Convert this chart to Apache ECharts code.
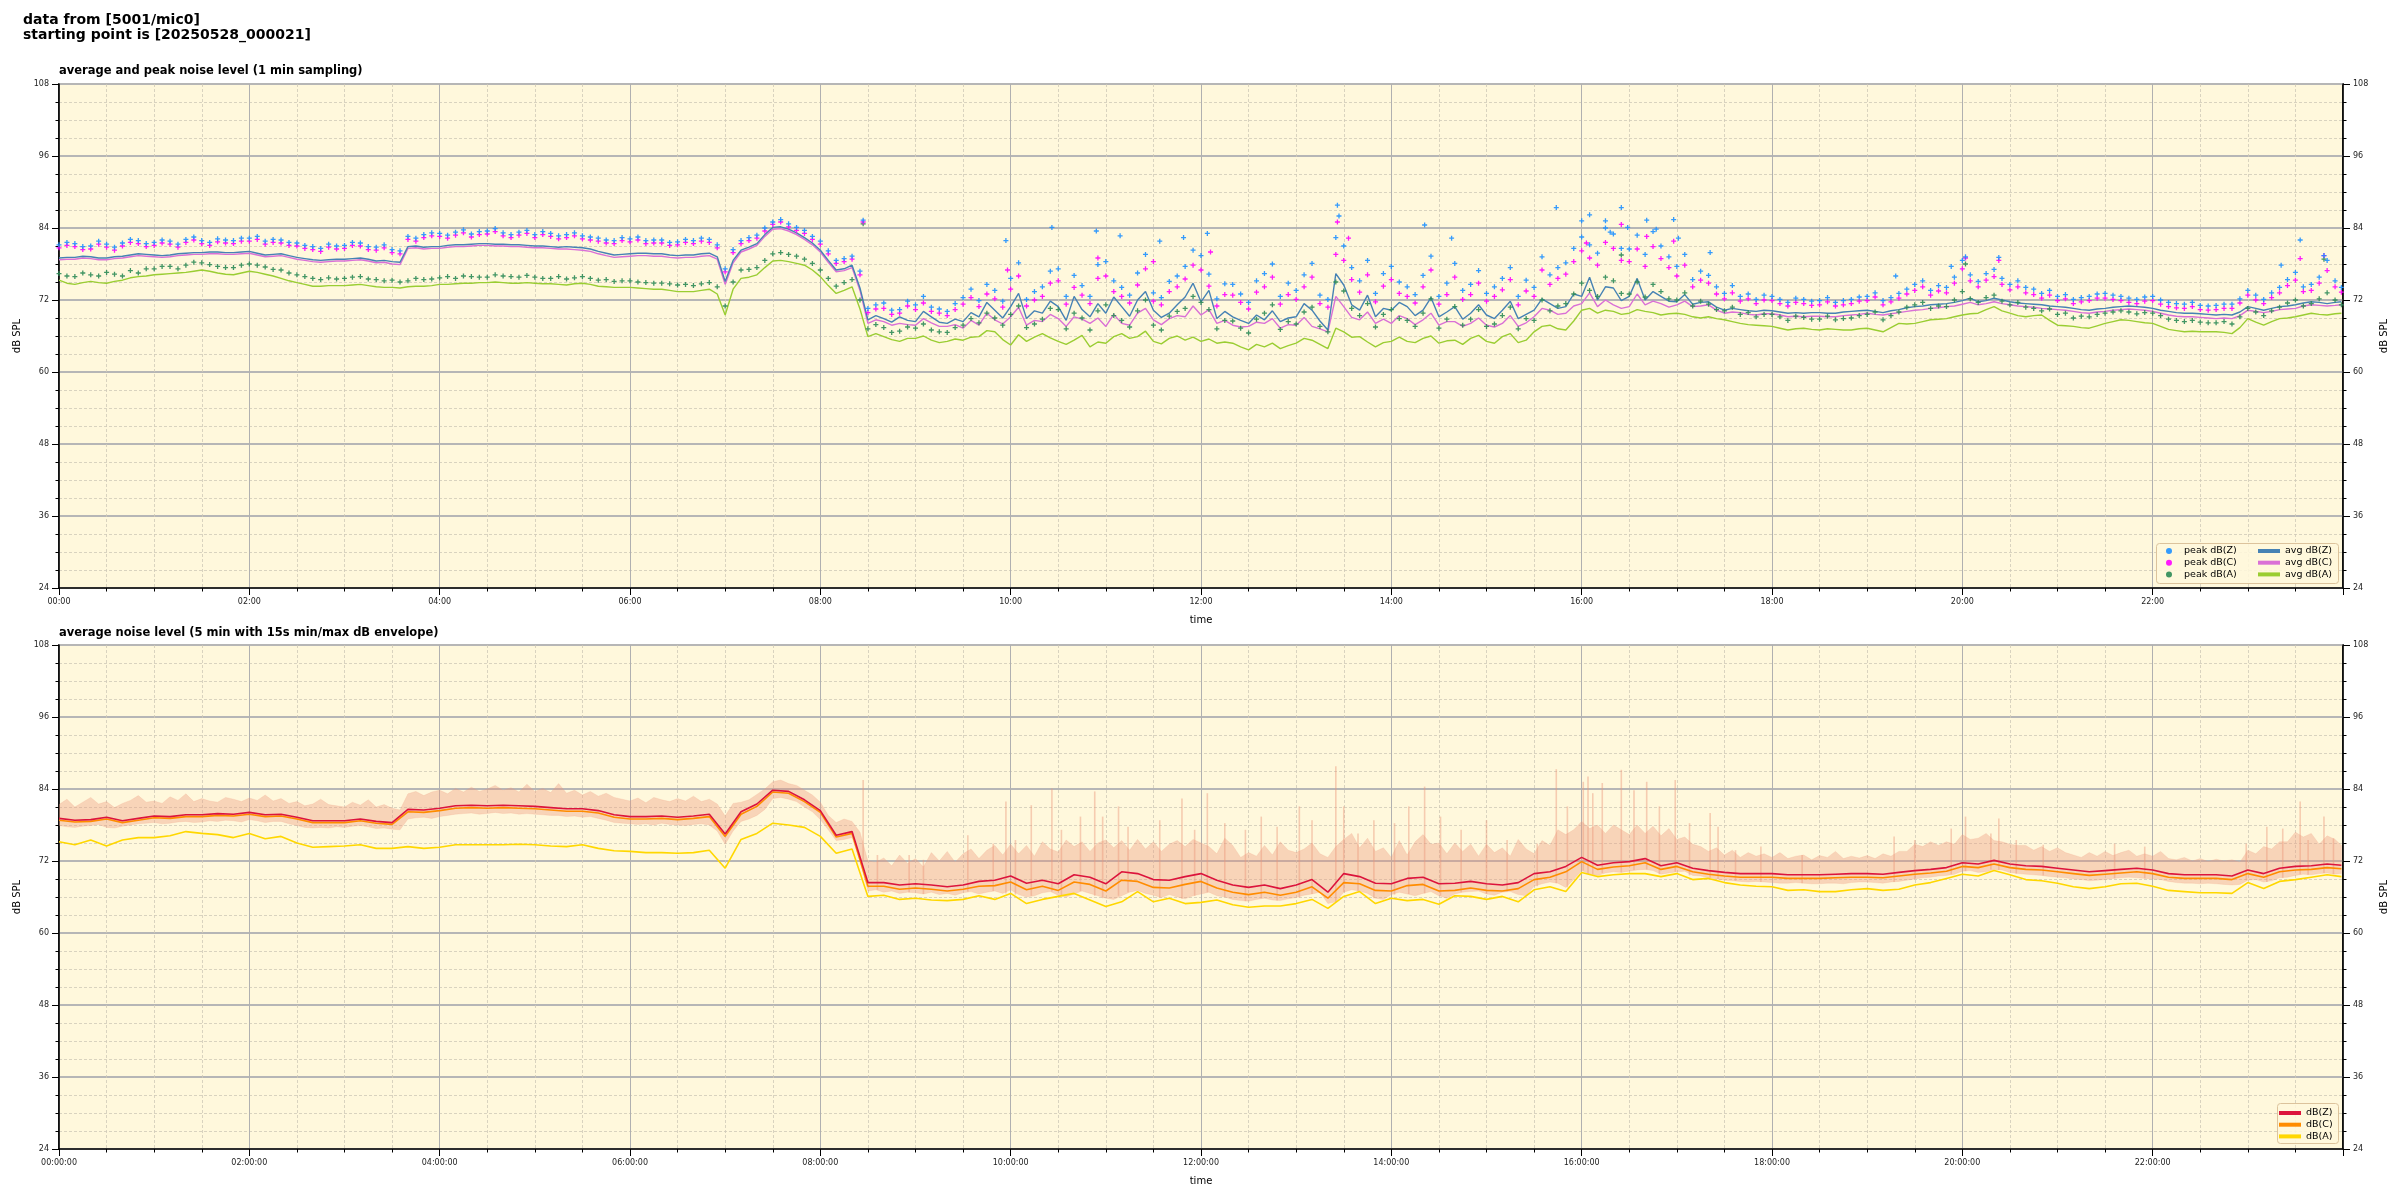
<!DOCTYPE html>
<html><head><meta charset="utf-8">
<script src="https://cdn.jsdelivr.net/npm/echarts/dist/echarts.min.js"></script>
<style>html,body{margin:0;padding:0;background:#fff}#c{width:2400px;height:1200px}</style>
</head><body><div id="c"></div><script>
// ---- panel 1: 5-minute samples from 00:00 (last sample 23:59), 12 per row = 1 hour ----
const avgZ = [
79.0,79.1,79.1,79.3,79.2,79.0,79.0,79.2,79.3,79.5,79.7,79.6, 79.5,79.4,79.5,79.7,79.8,79.9,79.9,80.0,80.0,79.9,79.9,80.0,
80.1,79.8,79.5,79.6,79.7,79.4,79.1,78.9,78.7,78.6,78.7,78.8, 78.8,78.9,79.0,78.8,78.5,78.6,78.4,78.3,80.9,81.0,80.8,80.9,
80.9,81.1,81.2,81.2,81.3,81.4,81.4,81.3,81.3,81.2,81.2,81.1, 81.0,81.0,80.9,80.8,80.9,80.8,80.7,80.5,80.1,79.8,79.5,79.6,
79.7,79.8,79.8,79.7,79.7,79.5,79.4,79.5,79.5,79.7,79.8,79.2, 75.1,78.6,80.3,80.8,81.4,82.9,84.1,84.2,83.8,83.2,82.4,81.5,
80.3,78.6,77.0,77.2,77.8,74.0,68.7,69.4,68.9,68.3,69.2,68.6, 68.4,70.1,69.2,68.3,68.1,68.8,68.4,69.9,69.2,71.6,70.3,69.0,
70.9,73.1,68.9,70.2,69.8,71.8,70.9,68.6,72.6,70.4,69.2,71.4, 69.8,72.5,70.9,69.3,72.0,73.4,70.3,69.1,69.8,71.2,72.5,74.8,
71.7,73.6,68.9,70.1,69.2,68.6,68.1,69.5,68.7,70.2,68.4,69.0, 69.2,71.4,70.3,68.5,67.0,76.4,74.5,71.2,70.3,72.8,69.2,70.6,
70.3,71.6,70.9,69.4,70.3,72.4,69.2,70.0,70.9,68.8,69.8,71.2, 69.5,68.9,70.3,71.8,68.9,69.6,70.3,72.2,71.4,70.6,70.9,73.0,
72.6,75.8,72.0,74.2,74.0,71.9,72.6,75.6,72.0,73.4,72.6,71.8, 71.7,72.9,71.3,71.6,71.7,70.8,70.3,70.6,70.4,70.2,70.1,70.3,
70.2,70.0,69.8,69.9,69.8,69.9,69.9,69.8,69.8,70.0,70.1,70.2, 70.3,70.1,69.9,70.2,70.4,70.7,70.9,71.0,71.2,71.3,71.4,71.6,
71.9,72.3,71.7,71.9,72.3,72.0,71.7,71.5,71.4,71.3,71.2,71.0, 70.9,70.8,70.6,70.4,70.3,70.5,70.6,70.8,70.9,71.0,70.9,70.8,
70.6,70.3,70.1,69.9,69.8,69.8,69.7,69.6,69.5,69.6,69.5,70.0, 70.9,70.6,70.3,70.6,70.9,71.0,71.2,71.5,71.7,71.6,71.4,71.6, 71.7];
const avgC = [
78.7,78.8,78.8,79.0,78.9,78.7,78.7,78.9,79.0,79.2,79.4,79.3, 79.2,79.1,79.2,79.4,79.5,79.6,79.6,79.7,79.7,79.6,79.6,79.7,
79.8,79.5,79.2,79.3,79.4,79.1,78.8,78.6,78.4,78.3,78.4,78.5, 78.5,78.6,78.7,78.5,78.2,78.3,78.0,77.9,80.6,80.7,80.5,80.6,
80.6,80.8,80.9,80.9,81.0,81.1,81.1,81.0,81.0,80.9,80.9,80.8, 80.7,80.7,80.6,80.5,80.5,80.4,80.3,80.1,79.7,79.4,79.1,79.2,
79.3,79.4,79.4,79.3,79.3,79.1,79.0,79.1,79.1,79.3,79.4,78.8, 74.6,78.2,80.0,80.5,81.1,82.6,83.8,83.9,83.5,82.9,82.1,81.2,
80.0,78.3,76.7,76.9,77.4,73.6,68.1,68.7,68.4,67.8,68.1,67.9, 67.8,68.9,68.2,67.6,67.6,67.9,67.3,68.6,67.8,69.8,68.7,68.0,
69.2,70.8,67.8,68.6,68.4,69.6,68.9,67.6,69.2,68.8,68.1,69.0, 67.6,69.6,68.1,67.8,69.8,70.6,68.7,67.9,68.9,69.4,69.2,71.0,
69.5,70.4,68.1,68.6,67.8,67.5,67.6,68.3,68.1,68.9,67.3,67.9, 67.8,69.1,67.6,67.2,66.7,72.6,70.9,69.1,68.7,70.0,68.1,68.8,
68.1,69.4,68.9,67.9,68.7,69.8,67.8,68.4,68.4,67.6,68.1,69.0, 67.8,67.5,68.1,69.4,67.6,68.2,69.2,70.6,70.3,69.6,69.8,71.0,
71.4,73.2,70.9,72.0,71.2,70.6,70.9,73.0,71.2,71.8,71.4,70.8, 71.2,71.8,70.9,71.0,71.2,70.3,69.8,70.0,69.9,69.6,69.5,69.7,
69.7,69.5,69.2,69.3,69.2,69.3,69.3,69.2,69.2,69.4,69.5,69.6, 69.8,69.6,69.5,69.7,69.9,70.1,70.3,70.4,70.6,70.7,70.9,71.0,
71.3,71.6,71.2,71.4,71.7,71.4,71.2,71.0,70.9,70.8,70.6,70.5, 70.4,70.3,70.1,69.9,69.8,70.0,70.1,70.3,70.4,70.5,70.4,70.3,
70.1,69.8,69.5,69.3,69.2,69.2,69.1,69.0,68.9,69.0,68.9,69.4, 70.3,70.1,69.9,70.1,70.4,70.5,70.6,71.0,71.2,71.1,71.0,71.1, 71.2];
const avgA = [
75.3,74.8,74.6,74.9,75.1,74.9,74.8,75.1,75.3,75.7,75.9,76.0, 76.2,76.3,76.4,76.5,76.6,76.8,77.0,76.8,76.5,76.3,76.2,76.5,
76.8,76.6,76.3,76.0,75.6,75.2,74.9,74.6,74.3,74.3,74.4,74.4, 74.4,74.5,74.6,74.4,74.2,74.1,74.1,74.0,74.2,74.3,74.3,74.4,
74.6,74.6,74.7,74.8,74.8,74.9,74.9,75.0,74.9,74.8,74.8,74.9, 74.8,74.7,74.7,74.6,74.5,74.7,74.8,74.6,74.3,74.2,74.1,74.1,
74.1,74.0,73.9,73.8,73.8,73.6,73.4,73.4,73.4,73.6,73.8,73.0, 69.5,73.8,75.6,75.8,76.2,77.4,78.5,78.6,78.4,78.1,77.8,77.0,
75.9,74.4,73.1,73.6,74.2,70.5,65.9,66.4,65.9,65.4,65.1,65.6, 65.6,66.0,65.3,64.9,65.1,65.5,65.3,65.8,65.9,66.9,66.7,65.4,
64.5,66.2,65.1,65.8,66.4,65.7,65.1,64.6,65.3,66.1,64.2,65.0, 64.8,65.9,66.4,65.6,65.9,66.8,65.1,64.7,65.6,66.0,65.3,65.8,
65.1,65.5,64.8,65.0,64.8,64.2,63.7,64.6,64.2,64.8,63.9,64.4, 64.8,65.6,65.3,64.6,63.9,67.3,66.7,65.8,65.9,65.0,64.2,64.9,
65.1,65.8,65.1,64.9,65.6,66.0,64.8,65.2,65.3,64.6,65.6,66.1, 65.1,64.8,65.9,66.4,64.9,65.3,66.7,67.6,67.8,67.2,67.0,68.5,
70.3,70.6,69.8,70.3,70.1,69.6,69.8,70.4,70.1,69.9,69.5,69.7, 69.8,69.6,69.2,69.0,69.2,68.9,68.7,68.4,68.1,67.9,67.8,67.7,
67.6,67.3,67.0,67.2,67.3,67.1,67.0,67.2,67.1,67.0,67.0,67.2, 67.3,67.0,66.7,67.4,68.1,68.0,68.1,68.4,68.7,68.8,68.9,69.2,
69.5,69.7,69.8,70.4,70.9,70.2,69.8,69.4,69.2,69.4,69.5,68.6, 67.8,67.7,67.6,67.4,67.3,67.7,68.1,68.4,68.7,68.6,68.4,68.2,
68.1,67.6,67.1,66.9,66.7,66.8,66.7,66.7,66.7,66.6,66.4,67.4, 68.9,68.3,67.8,68.4,68.9,69.0,69.2,69.5,69.8,69.6,69.5,69.7, 69.8];
const peakZ = [
81.2,81.6,81.4,80.9,81.0,81.8,81.3,80.8,81.5,82.1,81.9,81.4, 81.6,82.0,81.8,81.3,82.1,82.5,81.9,81.6,82.2,82.0,81.9,82.3,
82.3,82.6,81.8,82.1,82.0,81.6,81.5,81.1,80.9,80.6,81.3,81.0, 81.1,81.6,81.5,80.9,80.8,81.2,80.4,80.2,82.6,82.3,82.9,83.2,
83.1,82.8,83.3,83.7,83.0,83.4,83.5,83.9,83.2,82.9,83.3,83.6, 82.9,83.4,83.1,82.7,82.9,83.2,82.7,82.5,82.3,82.0,81.9,82.4,
82.2,82.5,81.9,82.0,82.0,81.6,81.7,82.1,81.9,82.3,82.1,81.2, 77.2,80.4,81.9,82.4,82.8,84.0,85.0,85.4,84.7,84.1,83.6,82.6,
81.8,80.2,78.6,78.9,79.3,76.8,70.6,71.2,71.5,70.3,70.4,71.8, 71.2,72.6,70.8,70.5,70.1,71.4,72.4,73.8,71.9,74.6,73.6,71.8,
75.6,78.2,72.1,73.4,74.2,76.8,77.2,72.6,76.1,74.4,72.6,77.9, 78.4,75.2,74.1,72.8,76.5,79.6,73.2,72.4,75.1,76.0,77.6,80.3,
79.4,76.3,72.2,74.7,74.6,73.0,71.6,75.2,76.4,78.0,72.6,74.8, 73.6,76.2,78.1,72.8,72.1,82.4,81.0,77.4,75.2,78.6,73.1,76.4,
77.6,75.0,74.2,72.9,76.1,79.3,72.6,74.8,78.1,73.6,74.6,76.9, 73.1,74.2,75.6,77.4,72.6,75.3,74.1,79.2,76.2,77.4,78.2,80.6,
82.5,81.2,79.8,84.0,83.0,80.6,80.5,82.8,79.6,83.4,81.0,79.2, 77.6,79.6,75.4,76.8,76.1,74.2,73.1,74.4,72.6,73.0,72.1,72.8,
72.6,72.1,71.6,72.3,72.1,71.8,71.9,72.4,71.6,71.9,72.1,72.5, 72.6,73.2,71.9,72.4,73.1,73.8,74.6,75.2,73.6,74.4,74.1,75.8,
78.6,76.2,75.1,76.4,77.1,75.6,74.6,75.2,74.1,73.8,73.1,73.6, 72.6,72.9,72.1,72.4,72.6,73.0,73.1,72.8,72.6,72.3,72.1,72.5,
72.6,72.0,71.6,71.4,71.3,71.6,71.1,71.0,71.1,71.3,71.3,72.2, 73.6,72.8,72.1,73.2,74.1,75.4,76.6,74.2,74.6,75.8,78.6,75.2, 74.1];
const peakC = [
80.7,81.1,80.9,80.4,80.5,81.3,80.8,80.3,81.0,81.6,81.4,80.9, 81.1,81.5,81.3,80.8,81.6,82.0,81.4,81.1,81.7,81.5,81.4,81.8,
81.8,82.1,81.3,81.6,81.5,81.1,81.0,80.6,80.4,80.1,80.8,80.5, 80.6,81.1,81.0,80.4,80.3,80.7,79.9,79.7,82.1,81.8,82.4,82.7,
82.6,82.3,82.8,83.2,82.5,82.9,83.0,83.4,82.7,82.4,82.8,83.1, 82.4,82.9,82.6,82.2,82.4,82.7,82.2,82.0,81.8,81.5,81.4,81.9,
81.7,82.0,81.4,81.5,81.5,81.1,81.2,81.6,81.4,81.8,81.6,80.7, 76.7,79.9,81.4,81.9,82.3,83.5,84.6,85.0,84.2,83.6,83.1,82.1,
81.3,79.7,78.1,78.4,78.8,76.2,69.9,70.5,70.6,69.6,69.8,71.0, 70.4,71.5,70.1,69.8,69.4,70.4,71.3,72.4,70.9,73.0,72.2,70.8,
73.8,76.0,71.0,72.0,72.6,74.8,75.2,71.3,74.1,72.8,71.4,75.6, 76.0,73.4,72.6,71.5,74.5,77.2,71.8,71.2,73.4,74.2,75.5,77.8,
77.0,74.3,71.0,72.9,72.8,71.6,70.5,73.3,74.2,75.8,71.3,72.9, 72.1,74.2,75.8,71.4,70.8,79.6,78.6,75.4,73.3,76.2,71.7,74.3,
75.4,73.1,72.6,71.5,74.2,77.0,71.3,72.9,75.8,72.1,72.9,74.8, 71.8,72.6,73.7,75.4,71.2,73.5,72.6,77.0,74.6,75.6,76.3,78.4,
80.2,79.0,77.8,81.6,80.6,78.6,78.4,80.5,77.6,80.9,78.9,77.4, 76.0,77.8,74.2,75.3,74.8,73.0,72.2,73.2,71.8,72.2,71.4,72.0,
71.9,71.4,71.0,71.6,71.4,71.1,71.2,71.7,71.0,71.2,71.4,71.8, 71.9,72.5,71.2,71.7,72.3,73.0,73.6,74.2,72.8,73.5,73.2,74.8,
77.2,75.2,74.2,75.3,75.9,74.6,73.7,74.2,73.2,72.9,72.3,72.8, 71.9,72.2,71.4,71.7,71.9,72.3,72.3,72.1,71.9,71.6,71.4,71.8,
71.9,71.3,70.9,70.7,70.6,70.9,70.4,70.3,70.4,70.6,70.6,71.5, 72.8,72.0,71.4,72.4,73.2,74.4,75.3,73.4,73.6,74.8,76.9,74.2, 73.3];
const peakA = [
76.4,76.0,75.9,76.5,76.2,76.0,76.6,76.3,76.0,76.9,76.5,77.2, 77.2,77.6,77.6,77.2,77.8,78.3,78.2,77.9,77.6,77.4,77.4,77.8,
78.0,77.8,77.5,77.1,77.0,76.5,76.2,75.9,75.6,75.4,75.7,75.5, 75.6,75.8,75.9,75.5,75.4,75.2,75.3,75.0,75.2,75.6,75.4,75.5,
75.7,75.9,75.6,76.0,75.9,75.8,75.8,76.2,76.0,75.9,75.8,76.1, 75.8,75.6,75.6,75.9,75.5,75.7,75.9,75.6,75.3,75.4,75.1,75.2,
75.2,75.0,74.9,74.8,74.8,74.7,74.5,74.6,74.4,74.7,74.9,74.2, 71.0,75.0,77.0,77.1,77.4,78.6,79.7,79.9,79.6,79.3,78.8,78.1,
77.0,75.6,74.3,74.9,75.4,72.0,67.2,67.9,67.4,66.6,66.8,67.5, 67.3,68.0,67.0,66.7,66.6,67.4,67.8,68.9,68.2,69.8,69.0,67.8,
69.6,71.0,67.4,68.0,68.8,70.6,70.4,67.2,69.8,69.0,67.0,70.2, 71.2,69.4,68.6,67.5,70.2,72.0,67.8,67.0,69.3,70.1,70.6,72.6,
71.6,70.4,67.2,68.6,68.5,67.3,66.5,68.8,69.8,71.2,67.1,68.4, 68.0,70.0,70.8,67.6,66.7,75.0,73.5,70.6,69.4,71.4,67.5,69.6,
70.4,68.9,68.6,67.6,69.8,72.2,67.3,68.8,70.9,67.8,68.8,70.4, 67.6,68.0,69.4,70.8,67.2,68.9,68.6,72.0,70.2,71.0,71.4,73.0,
74.8,73.6,72.6,75.8,75.2,73.1,73.0,75.0,72.5,74.6,73.4,72.2, 72.0,73.2,71.0,71.8,71.3,70.4,70.2,70.8,69.6,69.9,69.2,69.6,
69.6,69.2,68.6,69.3,69.1,68.8,68.8,69.3,68.7,68.9,69.0,69.4, 69.6,70.0,68.7,69.4,70.0,70.8,71.2,71.6,70.6,71.0,70.9,72.0,
73.4,72.2,71.6,72.4,72.8,71.8,71.2,71.6,70.8,70.6,70.2,70.5, 69.6,69.8,69.0,69.3,69.2,69.6,69.8,70.0,70.2,70.0,69.7,69.9,
69.8,69.4,68.8,68.6,68.4,68.6,68.3,68.2,68.2,68.4,68.0,69.2, 70.6,70.0,69.4,70.2,70.8,71.5,72.0,71.0,71.4,72.2,73.2,72.0, 71.2];
// isolated high peaks: [minute of day, dB]
const peakZExtra = [[507,85.3],[597,81.9],[626,84.1],[654,83.5],[669,82.7],[694,81.8],[709,82.4],[724,83.1],
 [806,87.8],[807,86.0],[861,84.5],[878,82.3],[944,87.4],[960,85.2],[965,86.2],[975,85.2],[985,87.4],[989,84.1],
 [1001,85.3],[1007,83.8],[1018,85.4],[978,83.3],[1021,82.3],[1041,79.9],[1158,76.0],[1193,77.6],[1202,79.2],
 [1223,79.1],[1401,77.8],[1413,82.0],[1428,79.4]];
const peakCExtra = [[507,85.0],[598,77.0],[655,79.0],[690,78.4],[726,80.0],[806,85.0],[813,82.3],[963,81.5],
 [985,84.6],[1001,82.6],[1018,81.8],[1202,79.0],[1223,78.6],[1413,78.9],[1428,79.4]];
const peakAExtra = [[507,84.7],[985,79.5],[1202,78.0],[1428,78.8]];

// ---- panel 2: 10-minute samples, 6 per hour ----
const dBZ = [
79.1,78.8,78.9,79.3,78.7,79.1, 79.5,79.4,79.7,79.7,79.9,79.8, 80.1,79.7,79.8,79.3,78.7,78.7,
78.7,79.0,78.6,78.4,80.6,80.5, 80.8,81.2,81.3,81.2,81.3,81.2, 81.1,80.9,80.7,80.7,80.4,79.7,
79.4,79.4,79.5,79.3,79.5,79.8, 76.5,80.2,81.5,83.8,83.6,82.2, 80.4,76.3,76.9,68.4,68.4,68.0,
68.2,68.0,67.7,68.0,68.6,68.8, 69.5,68.3,68.8,68.2,69.7,69.3, 68.2,70.2,69.9,68.9,68.8,69.4,
69.9,68.8,68.0,67.6,68.0,67.4, 68.0,68.9,66.8,69.9,69.4,68.3, 68.2,69.1,69.3,68.2,68.3,68.6,
68.2,68.0,68.4,69.9,70.2,71.1, 72.6,71.3,71.7,71.9,72.4,71.2, 71.7,70.8,70.4,70.1,69.9,69.9,
69.9,69.7,69.7,69.7,69.8,69.9, 69.9,69.8,70.1,70.4,70.6,70.9, 71.7,71.5,72.1,71.5,71.2,71.1,
70.8,70.5,70.2,70.4,70.6,70.8, 70.5,69.9,69.7,69.7,69.7,69.5, 70.5,69.9,70.8,71.1,71.2,71.5,71.3];
const dBC = [
78.8,78.5,78.6,79.0,78.4,78.8, 79.2,79.1,79.4,79.4,79.6,79.5, 79.8,79.4,79.5,79.0,78.4,78.4,
78.4,78.7,78.3,78.1,80.2,80.1, 80.4,80.8,80.9,80.8,80.9,80.8, 80.7,80.5,80.3,80.3,80.0,79.3,
79.0,79.0,79.1,78.9,79.1,79.4, 76.1,79.8,81.1,83.5,83.3,81.9, 80.1,76.0,76.6,67.8,67.8,67.3,
67.5,67.3,67.0,67.3,67.8,67.9, 68.5,67.2,67.8,67.1,68.5,68.1, 67.0,68.8,68.6,67.6,67.5,68.1,
68.6,67.5,66.8,66.4,66.8,66.3, 66.8,67.7,65.8,68.4,68.2,67.1, 67.0,67.9,68.1,67.0,67.1,67.5,
67.1,67.0,67.4,68.9,69.3,70.2, 71.9,70.6,71.0,71.2,71.7,70.6, 71.1,70.2,69.8,69.5,69.3,69.3,
69.3,69.1,69.1,69.1,69.2,69.3, 69.3,69.2,69.5,69.8,70.0,70.3, 71.1,70.9,71.5,70.9,70.6,70.5,
70.2,69.9,69.6,69.8,70.0,70.2, 69.9,69.3,69.1,69.1,69.1,68.9, 69.9,69.3,70.2,70.5,70.6,70.9,70.7];
const dBA = [
75.2,74.7,75.5,74.5,75.5,75.9, 75.9,76.2,76.9,76.6,76.4,75.9, 76.6,75.7,76.1,75.0,74.3,74.4,
74.5,74.7,74.1,74.1,74.4,74.1, 74.3,74.7,74.7,74.7,74.7,74.8, 74.7,74.5,74.4,74.7,74.1,73.7,
73.6,73.4,73.4,73.3,73.4,73.8, 70.8,75.6,76.6,78.3,78.0,77.6, 76.1,73.3,74.0,66.1,66.3,65.6,
65.8,65.5,65.4,65.6,66.2,65.6, 66.6,64.9,65.6,66.1,66.6,65.5, 64.4,65.2,66.9,65.2,65.8,64.9,
65.1,65.5,64.7,64.3,64.5,64.5, 64.9,65.6,64.1,66.1,66.9,64.9, 65.8,65.4,65.6,64.8,66.2,66.1,
65.6,66.1,65.2,67.2,67.7,66.9, 70.1,69.4,69.7,69.9,69.9,69.4, 69.9,68.9,69.1,68.4,68.0,67.8,
67.7,67.1,67.2,66.9,66.9,67.2, 67.4,67.1,67.3,68.0,68.4,69.1, 69.8,69.5,70.4,69.7,68.9,68.7,
68.3,67.7,67.4,67.7,68.2,68.3, 67.8,67.1,66.9,66.7,66.7,66.6, 68.4,67.4,68.6,68.9,69.3,69.7,69.4];
// 15 s min / max envelope, 5-minute samples, 12 per hour
const envMin = [
77.9,77.7,77.6,77.8,77.9,78.1,77.6,77.5,77.8,78.0,78.2,78.3, 78.4,78.2,78.3,78.5,78.6,78.4,78.5,78.7,78.6,78.8,78.7,78.5,
78.9,78.7,78.4,78.6,78.6,78.2,77.9,77.6,77.5,77.6,77.5,77.7, 77.6,77.8,77.9,77.7,77.4,77.5,77.3,77.2,79.0,79.2,79.3,79.1,
79.4,79.6,79.8,79.9,80.0,79.8,79.9,80.1,79.9,80.0,79.8,79.9, 79.8,79.7,79.6,79.6,79.4,79.5,79.3,79.4,79.1,78.8,78.4,78.3,
78.2,78.1,78.2,78.0,78.3,78.1,78.0,77.9,78.1,78.2,78.0,77.0, 74.8,77.0,78.6,79.0,79.6,80.6,82.4,82.6,82.3,81.9,81.0,80.2,
78.9,77.2,75.4,75.6,75.9,72.0,67.0,67.2,66.8,67.0,66.6,66.8, 66.7,66.5,66.8,66.4,66.6,66.3,66.7,66.9,66.5,66.8,67.0,66.6,
67.2,66.4,66.0,66.2,66.7,66.9,66.3,66.0,66.5,67.0,66.6,66.2, 65.8,65.6,66.2,66.8,67.1,66.6,66.3,65.9,66.4,66.0,65.7,66.2,
66.5,66.8,66.2,66.0,65.6,65.4,65.3,65.6,65.8,65.5,65.4,65.7, 65.9,66.3,66.5,66.8,64.9,65.2,66.8,67.2,67.0,66.6,65.8,65.6,
66.4,66.8,66.5,66.2,66.6,66.9,66.2,65.8,66.5,66.8,66.9,67.0, 66.5,66.3,66.8,66.9,66.4,66.2,67.8,68.2,68.5,68.3,67.6,68.9,
70.4,69.8,69.6,70.0,70.2,70.1,70.3,70.5,70.6,70.4,69.8,70.0, 70.2,70.3,69.6,69.5,69.2,69.0,68.8,68.7,68.6,68.5,68.6,68.5,
68.4,68.3,68.3,68.4,68.3,68.2,68.2,68.3,68.3,68.2,68.4,68.5, 68.5,68.4,68.3,68.5,68.6,68.8,69.0,69.2,69.3,69.5,69.6,69.8,
70.3,70.4,70.1,70.2,70.6,70.5,70.1,69.9,69.8,69.7,69.6,69.4, 69.3,69.2,69.0,68.9,68.7,68.8,68.9,69.1,69.2,69.3,69.2,69.1,
69.0,68.9,68.6,68.4,68.3,68.3,68.2,68.3,68.2,68.1,68.0,68.1, 68.8,68.9,68.5,68.7,69.2,69.3,69.6,69.8,69.7,69.9,70.0,69.8, 69.9];
const envMax = [
81.4,82.3,81.0,81.8,82.6,81.5,81.9,80.9,81.6,82.1,82.9,81.8, 82.0,81.6,82.7,82.1,83.2,81.9,82.4,82.0,81.8,82.6,82.3,81.9,
82.5,82.1,83.0,82.0,82.4,81.6,81.9,81.2,81.5,82.3,81.4,81.2, 81.0,81.8,81.3,82.2,81.0,81.4,80.8,80.5,83.2,83.6,82.9,83.5,
83.8,83.2,84.1,83.5,84.3,83.6,84.0,84.6,83.8,84.2,83.5,84.8, 83.6,84.1,83.4,84.9,83.3,83.8,83.0,83.6,82.8,83.3,82.6,82.3,
82.0,82.5,81.7,82.6,82.2,81.9,82.4,82.0,82.8,81.9,82.3,81.5, 79.5,81.6,81.8,82.2,83.1,84.0,85.2,85.5,84.9,84.6,83.8,83.0,
81.8,79.6,78.4,79.0,78.6,76.8,72.0,71.8,72.5,71.2,73.0,71.6, 72.4,71.0,73.4,72.0,73.6,71.8,73.2,74.0,72.4,73.8,74.6,73.0,
74.8,73.2,74.6,72.8,75.2,74.0,73.5,75.5,74.4,75.2,73.6,75.0, 75.5,74.2,75.4,73.8,75.6,74.0,75.2,73.6,74.8,75.4,74.4,75.6,
75.0,74.4,73.2,75.8,74.6,72.6,73.4,72.8,74.6,73.0,75.2,73.8, 73.4,74.0,75.0,73.2,72.6,74.4,75.6,76.6,74.2,75.8,73.6,74.2,
72.6,75.4,73.0,75.2,76.4,74.8,75.0,73.2,75.0,73.6,74.8,72.8, 74.8,73.4,74.2,72.8,75.6,74.0,73.2,75.4,74.6,77.2,76.4,77.2,
78.6,77.4,78.0,76.6,78.0,77.2,76.4,78.0,76.6,77.8,76.2,77.4, 75.6,76.0,74.8,74.4,73.6,74.2,73.0,73.8,72.6,73.4,72.8,73.2,
72.6,73.4,72.4,72.8,73.0,72.2,72.9,72.6,73.6,72.4,72.8,72.5, 72.9,72.4,73.2,72.8,73.6,73.6,74.8,74.4,75.2,74.6,75.2,74.8,
76.4,75.6,75.8,76.6,75.4,75.2,74.8,74.6,74.6,73.8,74.4,73.6, 74.2,73.4,73.0,72.6,73.4,72.8,73.6,72.9,73.4,73.8,72.8,73.2,
72.8,73.6,72.4,72.2,72.6,72.0,72.4,71.9,72.3,72.0,72.2,71.8, 73.8,73.2,74.4,74.0,75.2,75.2,76.8,76.0,76.6,74.8,76.2,75.6, 74.6];
// single 15 s maxima sticking out of the envelope: [minute of day, dB]
const envSpikes = [[507,85.5],[516,73.0],[536,73.0],[545,72.2],[573,76.3],[589,74.9],[597,81.9],[603,75.5],
 [613,81.3],[626,84.1],[632,77.2],[644,79.4],[653,83.6],[658,79.4],[668,81.1],[674,77.7],[694,78.8],[708,82.4],
 [716,77.2],[724,83.3],[735,78.3],[748,77.2],[758,79.4],[768,77.7],[782,81.1],[790,78.8],[805,87.8],[810,81.1],
 [819,76.6],[829,78.8],[842,78.3],[851,81.1],[861,84.4],[871,79.4],[884,77.2],[900,78.8],[913,75.5],[932,74.9],
 [944,87.3],[951,81.1],[961,85.2],[964,86.1],[967,83.3],[973,85.0],[985,87.2],[993,83.8],[1001,85.2],[1009,81.1],
 [1019,85.5],[1028,78.3],[1041,80.0],[1046,77.7],[1057,73.8],[1073,74.4],[1099,73.0],[1157,76.1],[1170,75.5],
 [1193,77.4],[1202,79.4],[1218,76.6],[1223,79.1],[1234,75.5],[1251,74.7],[1296,74.9],[1315,74.4],[1379,74.9],
 [1392,77.7],[1402,77.4],[1413,81.9],[1418,75.5],[1428,79.4],[1434,75.8]];

const yTicks = [24,36,48,60,72,84,96,108];

// ---- helpers ----
const F = 'DejaVu Sans';
const tOf = (i, step) => Math.min(i*step, 1439);
const at = (arr, step) => arr.map((v,i) => [tOf(i,step), v]);
const p2 = n => String(n).padStart(2,'0');
const fmtHM = v => v >= 1440 ? '' : p2(Math.floor(v/60)) + ':' + p2(v%60);
const fmtHMS = v => v >= 1440 ? '' : p2(Math.floor(v/60)) + ':' + p2(v%60) + ':00';
const plus = 'path://M-0.26,-1H0.26V-0.26H1V0.26H0.26V1H-0.26V0.26H-1V-0.26H-0.26Z';
const ENV_FILL = 'rgba(236,150,122,0.36)';

function xAx(gi, fmt) {
  return { type:'value', gridIndex:gi, min:0, max:1440, interval:120,
    name:'time', nameLocation:'middle', nameGap:27,
    nameTextStyle:{fontSize:10, color:'#000', fontFamily:F},
    axisLine:{onZero:false, lineStyle:{color:'#000', width:1.5}},
    axisTick:{length:7, lineStyle:{color:'#000', width:1}},
    minorTick:{show:true, splitNumber:4, length:3.5, lineStyle:{color:'#000', width:1}},
    axisLabel:{fontSize:8, color:'#222', margin:10, fontFamily:F, formatter:fmt},
    splitLine:{show:true, lineStyle:{color:'#b0b0b0', width:1}},
    minorSplitLine:{show:true, lineStyle:{color:'#cfc9b8', width:0.8, type:[3,2]}} };
}
function yAx(gi, right) {
  return { type:'value', gridIndex:gi, min:yTicks[0], max:yTicks[yTicks.length-1], interval:12,
    position: right ? 'right' : 'left',
    name:'dB SPL', nameLocation:'middle', nameGap: right ? 33 : 34, nameRotate: 90,
    nameTextStyle:{fontSize:10, color:'#000', fontFamily:F},
    axisLine:{show:true, onZero:false, lineStyle:{color:'#000', width:1.5}},
    axisTick:{show:true, length:7, lineStyle:{color:'#000', width:1}},
    minorTick:{show:true, splitNumber:4, length:3.5, lineStyle:{color:'#000', width:1}},
    axisLabel:{fontSize:8, color:'#222', margin:10, fontFamily:F},
    splitLine:{show:!right, lineStyle:{color:'#b6b6b6', width:1.8}},
    minorSplitLine:{show:!right, lineStyle:{color:'#cfc9b8', width:0.8, type:[3,2]}} };
}
const lineS = (name, data, color, gi, w) => ({ name, type:'line', xAxisIndex:gi, yAxisIndex:gi*2,
  data, showSymbol:false, symbol:'none', lineStyle:{color, width:w}, itemStyle:{color}, z:3 });
const scatS = (name, data, color) => ({ name, type:'scatter', xAxisIndex:0, yAxisIndex:0,
  data, symbol:plus, symbolSize:5, itemStyle:{color, opacity:0.9}, z:4 });

// envelope band polygon (max forward, min backward) through the axis scales
const envSeries = {
  name:'envelope', type:'custom', coordinateSystem:'cartesian2d', xAxisIndex:1, yAxisIndex:2,
  data: at(envMax,5), encode:{x:0, y:1}, silent:true, z:1, clip:true,
  renderItem: (params, api) => {
    if (params.dataIndex !== 0) return null;
    const pts = envMax.map((v,i) => api.coord([tOf(i,5), v]));
    for (let i = envMin.length-1; i >= 0; i--) pts.push(api.coord([tOf(i,5), envMin[i]]));
    return { type:'polygon', shape:{points:pts},
      style:{fill:ENV_FILL, stroke:'rgba(236,150,122,0.30)', lineWidth:0.6} };
  }
};
const spikeSeries = {
  name:'envelope spikes', type:'custom', coordinateSystem:'cartesian2d', xAxisIndex:1, yAxisIndex:2,
  data: envSpikes, encode:{x:0, y:1}, silent:true, z:1, clip:true,
  renderItem: (params, api) => {
    const t = api.value(0), v = api.value(1);
    const lo = envMin[Math.round(t/5)];
    const p1 = api.coord([t, v]), p0 = api.coord([t, lo]);
    return { type:'line', shape:{x1:p0[0], y1:p0[1], x2:p1[0], y2:p1[1]},
      style:{stroke:'rgba(236,150,122,0.45)', lineWidth:1.6} };
  }
};

const legendText = {fontSize:9.5, color:'#000', fontFamily:F, lineHeight:11};
const option = {
  animation:false,
  textStyle:{fontFamily:F},
  title:[
    {text:'data from [5001/mic0]\nstarting point is [20250528_000021]', left:23, top:12.5, padding:0,
     textStyle:{fontSize:14, fontWeight:'bold', color:'#000', lineHeight:15.5, fontFamily:F}},
    {text:'average and peak noise level (1 min sampling)', left:59, top:65, padding:0,
     textStyle:{fontSize:11.5, fontWeight:'bold', color:'#000', fontFamily:F}},
    {text:'average noise level (5 min with 15s min/max dB envelope)', left:59, top:627, padding:0,
     textStyle:{fontSize:11.5, fontWeight:'bold', color:'#000', fontFamily:F}}
  ],
  grid:[
    {left:59, top:84, width:2284, height:504, show:true, backgroundColor:'#fff8dc', borderColor:'#000', borderWidth:1.5},
    {left:59, top:645, width:2284, height:504, show:true, backgroundColor:'#fff8dc', borderColor:'#000', borderWidth:1.5}
  ],
  xAxis:[ xAx(0, fmtHM), xAx(1, fmtHMS) ],
  yAxis:[ yAx(0,false), yAx(0,true), yAx(1,false), yAx(1,true) ],
  legend:[
    {z:60, orient:'vertical', left:2166, top:545.5, padding:0, itemWidth:20, itemHeight:6, itemGap:0.7, icon:'circle',
     textStyle:legendText, data:['peak dB(Z)','peak dB(C)','peak dB(A)']},
    {z:60, orient:'vertical', left:2258, top:545.5, padding:0, itemWidth:22, itemHeight:4, itemGap:0.7, icon:'rect',
     textStyle:legendText, data:['avg dB(Z)','avg dB(C)','avg dB(A)']},
    {z:60, orient:'vertical', left:2279, top:1107.5, padding:0, itemWidth:22, itemHeight:4, itemGap:0.7, icon:'rect',
     textStyle:legendText, data:['dB(Z)','dB(C)','dB(A)']}
  ],
  graphic:[
    {type:'rect', left:2156, top:543, z:50, shape:{width:182, height:40, r:3},
     style:{fill:'rgba(255,248,220,0.85)', stroke:'#dcc39c', lineWidth:1}},
    {type:'rect', left:2277, top:1103, z:50, shape:{width:61, height:40, r:3},
     style:{fill:'rgba(255,248,220,0.85)', stroke:'#dcc39c', lineWidth:1}}
  ],
  series:[
    lineS('avg dB(A)', at(avgA,5), '#9acd32', 0, 1.4),
    lineS('avg dB(C)', at(avgC,5), '#da70d6', 0, 1.4),
    lineS('avg dB(Z)', at(avgZ,5), '#4682b4', 0, 1.4),
    scatS('peak dB(A)', at(peakA,5).concat(peakAExtra), '#2e8b57'),
    scatS('peak dB(C)', at(peakC,5).concat(peakCExtra), '#ff00ff'),
    scatS('peak dB(Z)', at(peakZ,5).concat(peakZExtra), '#1e90ff'),
    envSeries,
    spikeSeries,
    lineS('dB(A)', at(dBA,10), '#ffd700', 1, 1.6),
    lineS('dB(C)', at(dBC,10), '#ff8c00', 1, 1.6),
    lineS('dB(Z)', at(dBZ,10), '#dc143c', 1, 1.6)
  ]
};
const chart = echarts.init(document.getElementById('c'), null, {renderer:'canvas'});
chart.setOption(option);
</script></body></html>
